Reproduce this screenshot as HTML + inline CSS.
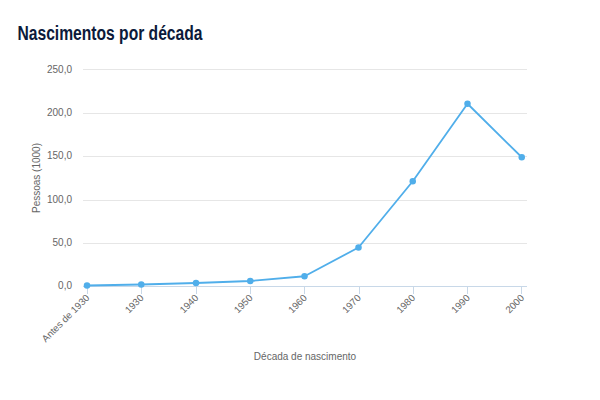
<!DOCTYPE html>
<html><head><meta charset="utf-8"><style>
html,body{margin:0;padding:0;background:#fff;width:600px;height:400px;overflow:hidden}
svg{position:absolute;left:0;top:0}
text{font-family:"Liberation Sans",sans-serif}
.yl{font-size:10px;fill:#666666}
.xl{font-size:9.7px;fill:#666666}
.at{font-size:10px;fill:#666666}
.title{font-size:20px;font-weight:bold;fill:#0c1a3a}
</style></head><body>
<svg width="600" height="400" viewBox="0 0 600 400">
<path d="M83 69.5H527" stroke="#e6e6e6" stroke-width="1"/>
<path d="M83 113.5H527" stroke="#e6e6e6" stroke-width="1"/>
<path d="M83 156.5H527" stroke="#e6e6e6" stroke-width="1"/>
<path d="M83 200.5H527" stroke="#e6e6e6" stroke-width="1"/>
<path d="M83 243.5H527" stroke="#e6e6e6" stroke-width="1"/>
<text x="72" y="73" text-anchor="end" class="yl">250,0</text>
<text x="72" y="116" text-anchor="end" class="yl">200,0</text>
<text x="72" y="159" text-anchor="end" class="yl">150,0</text>
<text x="72" y="203" text-anchor="end" class="yl">100,0</text>
<text x="72" y="246" text-anchor="end" class="yl">50,0</text>
<text x="72" y="289" text-anchor="end" class="yl">0,0</text>
<path d="M83 286.5H527" stroke="#c8d8e8" stroke-width="1"/>
<path d="M87.5 286V294" stroke="#c8d8e8" stroke-width="1"/>
<path d="M141.5 286V294" stroke="#c8d8e8" stroke-width="1"/>
<path d="M196.5 286V294" stroke="#c8d8e8" stroke-width="1"/>
<path d="M250.5 286V294" stroke="#c8d8e8" stroke-width="1"/>
<path d="M304.5 286V294" stroke="#c8d8e8" stroke-width="1"/>
<path d="M359.5 286V294" stroke="#c8d8e8" stroke-width="1"/>
<path d="M413.5 286V294" stroke="#c8d8e8" stroke-width="1"/>
<path d="M467.5 286V294" stroke="#c8d8e8" stroke-width="1"/>
<path d="M521.5 286V294" stroke="#c8d8e8" stroke-width="1"/>
<polyline points="87.0,285.5 141.25,284.5 196.0,283.0 250.25,281.0 304.5,276.25 358.5,247.5 412.75,181.25 467.5,103.75 521.75,157.25" fill="none" stroke="#50aeea" stroke-width="1.8" stroke-linejoin="round" stroke-linecap="round"/>
<circle cx="87.0" cy="285.5" r="3.25" fill="#50aeea"/>
<circle cx="141.25" cy="284.5" r="3.25" fill="#50aeea"/>
<circle cx="196.0" cy="283.0" r="3.25" fill="#50aeea"/>
<circle cx="250.25" cy="281.0" r="3.25" fill="#50aeea"/>
<circle cx="304.5" cy="276.25" r="3.25" fill="#50aeea"/>
<circle cx="358.5" cy="247.5" r="3.25" fill="#50aeea"/>
<circle cx="412.75" cy="181.25" r="3.25" fill="#50aeea"/>
<circle cx="467.5" cy="103.75" r="3.25" fill="#50aeea"/>
<circle cx="521.75" cy="157.25" r="3.25" fill="#50aeea"/>
<text x="90.0" y="298.5" text-anchor="end" class="xl" transform="rotate(-45 90.0 298.5)">Antes de 1930</text>
<text x="144.25" y="298.5" text-anchor="end" class="xl" transform="rotate(-45 144.25 298.5)">1930</text>
<text x="199.0" y="298.5" text-anchor="end" class="xl" transform="rotate(-45 199.0 298.5)">1940</text>
<text x="253.25" y="298.5" text-anchor="end" class="xl" transform="rotate(-45 253.25 298.5)">1950</text>
<text x="307.5" y="298.5" text-anchor="end" class="xl" transform="rotate(-45 307.5 298.5)">1960</text>
<text x="361.5" y="298.5" text-anchor="end" class="xl" transform="rotate(-45 361.5 298.5)">1970</text>
<text x="415.75" y="298.5" text-anchor="end" class="xl" transform="rotate(-45 415.75 298.5)">1980</text>
<text x="470.5" y="298.5" text-anchor="end" class="xl" transform="rotate(-45 470.5 298.5)">1990</text>
<text x="524.75" y="298.5" text-anchor="end" class="xl" transform="rotate(-45 524.75 298.5)">2000</text>
<text x="40" y="178" text-anchor="middle" class="at" transform="rotate(-90 40 178)">Pessoas (1000)</text>
<text x="305" y="360" text-anchor="middle" class="at">Década de nascimento</text>
<text x="0" y="39.9" class="title" transform="translate(17.5,0) scale(0.782,1)">Nascimentos por década</text>
</svg>
</body></html>
